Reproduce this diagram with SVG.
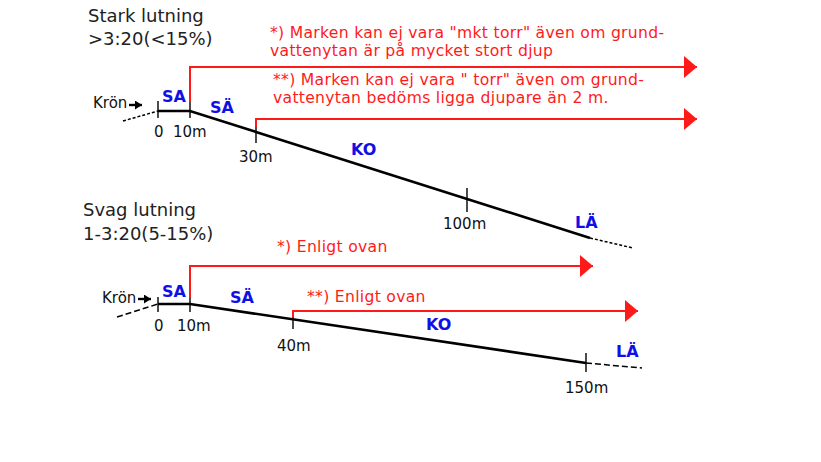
<svg xmlns="http://www.w3.org/2000/svg" width="821" height="462" viewBox="0 0 821 462">
<style>
  text { font-family: "DejaVu Sans", Verdana, sans-serif; }
  .hdr { font-size: 18px; fill: #222; }
  .lbl { font-size: 15px; fill: #111; }
  .zone { font-size: 16px; font-weight: bold; fill: #1010e6; }
  .note { font-size: 15.6px; fill: #ff1a1a; letter-spacing: 0.3px; }
  .ground { fill: none; stroke: #000; stroke-width: 2.6; }
  .tick { fill: none; stroke: #000; stroke-width: 1.4; }
  .krarrow { fill: none; stroke: #000; stroke-width: 2.4; }
  .dash1 { fill: none; stroke: #000; stroke-width: 1.5; stroke-dasharray: 3 2; }
  .dash2 { fill: none; stroke: #000; stroke-width: 1.5; stroke-dasharray: 6 3; }
  .red { fill: none; stroke: #ff1a1a; stroke-width: 2; }
</style>
<defs>
  <marker id="redArrow" markerUnits="userSpaceOnUse" markerWidth="14" markerHeight="24" refX="13" refY="11" orient="auto">
    <path d="M0,0 L13,11 L0,22 Z" fill="#ff1a1a"/>
  </marker>
  <marker id="blkArrow" markerUnits="userSpaceOnUse" markerWidth="9" markerHeight="10" refX="7" refY="4.5" orient="auto">
    <path d="M0,0 L7,4.5 L0,9 Z" fill="#000"/>
  </marker>
</defs>
<rect width="821" height="462" fill="#fff"/>

<g id="header-strong">
  <text class="hdr" x="88" y="22">Stark lutning</text>
  <text class="hdr" x="88" y="45">&gt;3:20(&lt;15%)</text>
</g>
<g id="header-weak">
  <text class="hdr" x="83" y="216">Svag lutning</text>
  <text class="hdr" x="83" y="240">1-3:20(5-15%)</text>
</g>

<g id="connectors">
  <!-- top profile -->
  <path class="dash1" d="M123,121 L158,111"/>
  <path class="ground" d="M158,111 L190,111 L590,238"/>
  <path class="dash1" d="M590,238 L633,248"/>
  <path class="tick" d="M158,101 V118 M190,101 V118 M256,127 V143 M467,188 V212"/>
  <path class="krarrow" d="M129,105 H142" marker-end="url(#blkArrow)"/>
  <!-- top red arrows -->
  <path class="red" d="M190,102 V67 H697" marker-end="url(#redArrow)"/>
  <path class="red" d="M256,127 V119 H697" marker-end="url(#redArrow)"/>

  <!-- bottom profile -->
  <path class="dash2" d="M117,317 L158,304"/>
  <path class="ground" d="M158,304 L190,304 L586,363"/>
  <path class="dash2" d="M586,363 L642,368"/>
  <path class="tick" d="M158,297 V312 M190,297 V312 M293,316 V329 M586,353 V372"/>
  <path class="krarrow" d="M138,299 H151" marker-end="url(#blkArrow)"/>
  <!-- bottom red arrows -->
  <path class="red" d="M190,298 V266 H593" marker-end="url(#redArrow)"/>
  <path class="red" d="M293,317 V311 H638" marker-end="url(#redArrow)"/>
</g>

<g id="notes-top">
  <text class="note" x="270" y="38">*) Marken kan ej vara "mkt torr" även om grund-</text>
  <text class="note" x="270" y="56">vattenytan är på mycket stort djup</text>
  <text class="note" x="273" y="85">**) Marken kan ej vara " torr" även om grund-</text>
  <text class="note" x="273" y="103">vattenytan bedöms ligga djupare än 2 m.</text>
</g>
<g id="notes-bottom">
  <text class="note" x="277" y="252">*) Enligt ovan</text>
  <text class="note" x="307" y="302">**) Enligt ovan</text>
</g>

<g id="labels-top">
  <text class="lbl" x="93" y="108">Krön</text>
  <text class="zone" x="162" y="102">SA</text>
  <text class="zone" x="210" y="113">SÄ</text>
  <text class="zone" x="351" y="155">KO</text>
  <text class="zone" x="575" y="228">LÄ</text>
  <text class="lbl" x="154" y="137">0</text>
  <text class="lbl" x="173" y="137">10m</text>
  <text class="lbl" x="239" y="162">30m</text>
  <text class="lbl" x="443" y="229">100m</text>
</g>
<g id="labels-bottom">
  <text class="lbl" x="102" y="303">Krön</text>
  <text class="zone" x="162" y="297">SA</text>
  <text class="zone" x="230" y="303">SÄ</text>
  <text class="zone" x="426" y="330">KO</text>
  <text class="zone" x="616" y="357">LÄ</text>
  <text class="lbl" x="154" y="331">0</text>
  <text class="lbl" x="177" y="331">10m</text>
  <text class="lbl" x="277" y="351">40m</text>
  <text class="lbl" x="565" y="393">150m</text>
</g>
</svg>
